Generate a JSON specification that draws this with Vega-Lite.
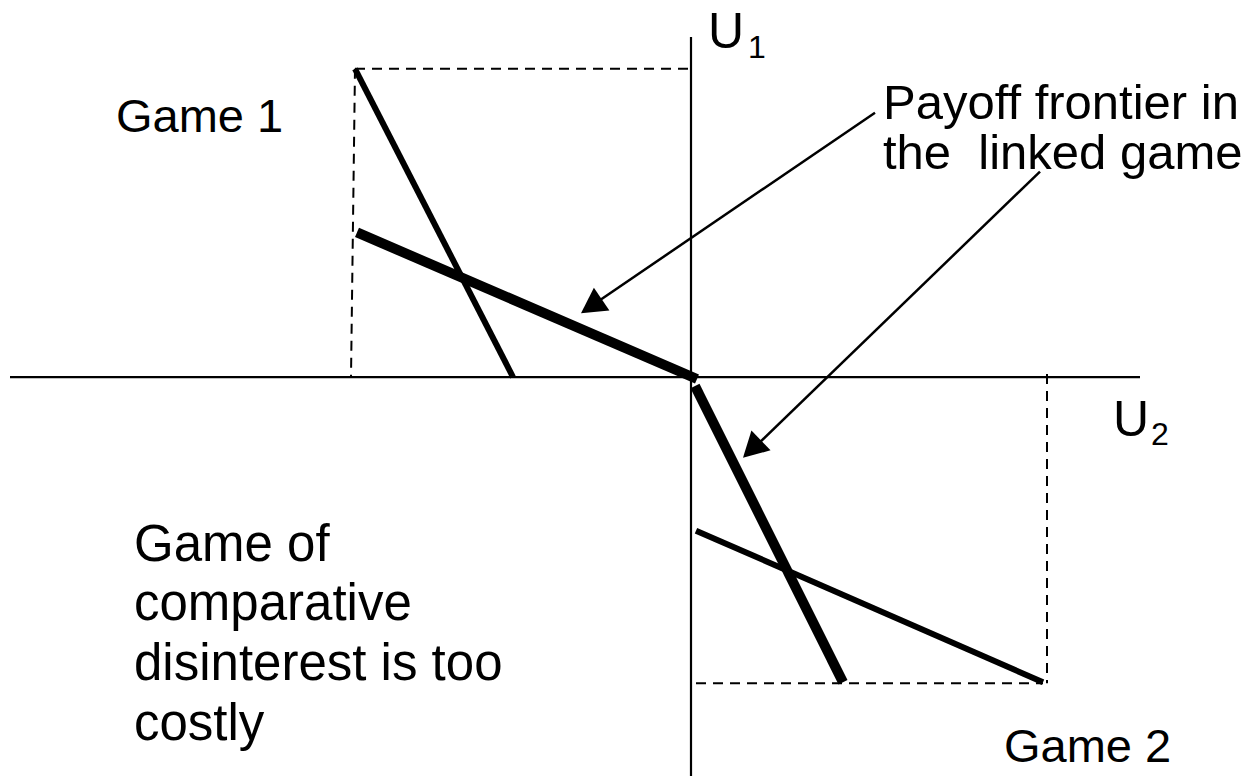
{
  "$schema": "https://vega.github.io/schema/vega-lite/v6.json",
  "width": 1252,
  "height": 778,
  "autosize": {"type": "fit", "contains": "padding"},
  "padding": 0,
  "background": "white",
  "config": {"view": {"stroke": null}},
  "datasets": {
    "segs": [
      {"k": "axis", "x1": 0, "y1": 341, "x2": 0, "y2": -400},
      {"k": "axis", "x1": -681, "y1": 0, "x2": 449, "y2": 0},
      {"k": "dash", "x1": -336, "y1": 309, "x2": 2, "y2": 309},
      {"k": "dash", "x1": -336, "y1": 309, "x2": -340, "y2": 0},
      {"k": "dash", "x1": 5, "y1": -307, "x2": 352, "y2": -307},
      {"k": "dash", "x1": 356, "y1": 3, "x2": 356, "y2": -307},
      {"k": "thin", "x1": -336, "y1": 309, "x2": -178, "y2": 0},
      {"k": "thin", "x1": 5, "y1": -154, "x2": 352, "y2": -306},
      {"k": "thick", "x1": -334, "y1": 145, "x2": 6, "y2": -2},
      {"k": "thick", "x1": 4, "y1": -9, "x2": 152, "y2": -306},
      {"k": "arrow", "x1": 184, "y1": 265, "x2": -100, "y2": 71},
      {"k": "arrow", "x1": 349, "y1": 206, "x2": 61, "y2": -73}
    ],
    "heads": [
      {"x": -110, "y": 64, "angle": 235.7},
      {"x": 52, "y": -81, "angle": 226}
    ],
    "texts": [
      {"g": "u", "x": 17, "y": 330, "t": "U"},
      {"g": "u", "x": 422, "y": -59, "t": "U"},
      {"g": "sub", "x": 57, "y": 320, "t": "1"},
      {"g": "sub", "x": 460, "y": -68, "t": "2"},
      {"g": "game1", "x": -575, "y": 246, "t": "Game 1"},
      {"g": "game1", "x": 313, "y": -386, "t": "Game 2"},
      {"g": "payoff", "x": 192, "y": 259, "t": "Payoff frontier in"},
      {"g": "payoff", "x": 192, "y": 209, "t": "the \u00a0linked game"},
      {"g": "big", "x": -557, "y": -184, "t": "Game of"},
      {"g": "big", "x": -557, "y": -244, "t": "comparative"},
      {"g": "big", "x": -557, "y": -304, "t": "disinterest is too"},
      {"g": "big", "x": -557, "y": -364, "t": "costly"}
    ]
  },
  "encoding": {
    "x": {"type": "quantitative", "scale": {"domain": [-691, 561], "nice": false, "zero": false}, "axis": null},
    "y": {"type": "quantitative", "scale": {"domain": [-400, 378], "nice": false, "zero": false}, "axis": null}
  },
  "layer": [
    {
      "data": {"name": "segs"},
      "transform": [{"filter": "datum.k === 'axis'"}],
      "mark": {"type": "rule", "color": "black", "strokeWidth": 2.2},
      "encoding": {"x": {"field": "x1"}, "y": {"field": "y1"}, "x2": {"field": "x2"}, "y2": {"field": "y2"}}
    },
    {
      "data": {"name": "segs"},
      "transform": [{"filter": "datum.k === 'dash'"}],
      "mark": {"type": "rule", "color": "black", "strokeWidth": 2, "strokeDash": [10, 7]},
      "encoding": {"x": {"field": "x1"}, "y": {"field": "y1"}, "x2": {"field": "x2"}, "y2": {"field": "y2"}}
    },
    {
      "data": {"name": "segs"},
      "transform": [{"filter": "datum.k === 'thin'"}],
      "mark": {"type": "rule", "color": "black", "strokeWidth": 6},
      "encoding": {"x": {"field": "x1"}, "y": {"field": "y1"}, "x2": {"field": "x2"}, "y2": {"field": "y2"}}
    },
    {
      "data": {"name": "segs"},
      "transform": [{"filter": "datum.k === 'thick'"}],
      "mark": {"type": "rule", "color": "black", "strokeWidth": 10},
      "encoding": {"x": {"field": "x1"}, "y": {"field": "y1"}, "x2": {"field": "x2"}, "y2": {"field": "y2"}}
    },
    {
      "data": {"name": "segs"},
      "transform": [{"filter": "datum.k === 'arrow'"}],
      "mark": {"type": "rule", "color": "black", "strokeWidth": 2.5},
      "encoding": {"x": {"field": "x1"}, "y": {"field": "y1"}, "x2": {"field": "x2"}, "y2": {"field": "y2"}}
    },
    {
      "data": {"name": "heads"},
      "mark": {"type": "point", "shape": "M0,0L-0.55,1L0.55,1Z", "size": 2500, "filled": true, "color": "black", "opacity": 1, "strokeWidth": 0},
      "encoding": {"x": {"field": "x"}, "y": {"field": "y"}, "angle": {"field": "angle", "type": "quantitative", "scale": null}}
    },
    {
      "data": {"name": "texts"},
      "transform": [{"filter": "datum.g === 'u'"}],
      "mark": {"type": "text", "font": "Liberation Sans", "fontSize": 50, "align": "left", "baseline": "alphabetic", "color": "black"},
      "encoding": {"x": {"field": "x"}, "y": {"field": "y"}, "text": {"field": "t"}}
    },
    {
      "data": {"name": "texts"},
      "transform": [{"filter": "datum.g === 'sub'"}],
      "mark": {"type": "text", "font": "Liberation Sans", "fontSize": 32, "align": "left", "baseline": "alphabetic", "color": "black"},
      "encoding": {"x": {"field": "x"}, "y": {"field": "y"}, "text": {"field": "t"}}
    },
    {
      "data": {"name": "texts"},
      "transform": [{"filter": "datum.g === 'game1'"}],
      "mark": {"type": "text", "font": "Liberation Sans", "fontSize": 47, "align": "left", "baseline": "alphabetic", "color": "black"},
      "encoding": {"x": {"field": "x"}, "y": {"field": "y"}, "text": {"field": "t"}}
    },
    {
      "data": {"name": "texts"},
      "transform": [{"filter": "datum.g === 'payoff'"}],
      "mark": {"type": "text", "font": "Liberation Sans", "fontSize": 49, "align": "left", "baseline": "alphabetic", "color": "black"},
      "encoding": {"x": {"field": "x"}, "y": {"field": "y"}, "text": {"field": "t"}}
    },
    {
      "data": {"name": "texts"},
      "transform": [{"filter": "datum.g === 'big'"}],
      "mark": {"type": "text", "font": "Liberation Sans", "fontSize": 51, "align": "left", "baseline": "alphabetic", "color": "black"},
      "encoding": {"x": {"field": "x"}, "y": {"field": "y"}, "text": {"field": "t"}}
    }
  ]
}
